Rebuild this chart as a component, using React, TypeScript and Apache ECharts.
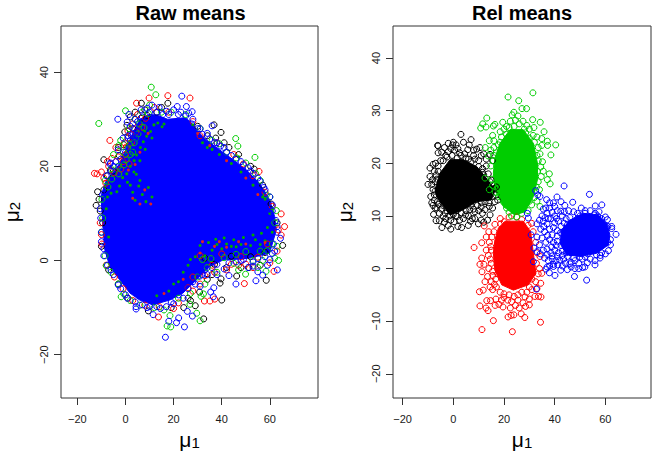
import React, { useEffect, useRef } from "react";
import * as echarts from "echarts";

// Where overplotting makes single circles
// unreadable, the solid mass is given as a traced outline (data units), not invented points.
const rawCore = [[-9.3,6.5],[-10,12.2],[-10,14],[-8,17],[-4.5,19],[-2,21],[0.5,24],[3,27],[6,30],[10,31],[12.9,30.9],[17.5,30],[24.6,30.3],[26.7,29.6],[29.5,27.7],[33.6,25.6],[39.1,23.5],[44.7,21.4],[50.2,19.2],[55.7,16.4],[59.9,12.9],[62,9.3],[62.7,6.5],[59.9,1.6],[51.6,0.5],[40.5,0.1],[35,-1.3],[29.5,-4.1],[23.9,-6.9],[18.4,-8.4],[11.5,-9.4],[5.9,-8.4],[1.8,-6.9],[-2.4,-4.1],[-6.5,-1.3],[-8.6,2.3]];
const rawBlack = [[17.6,33.4],[6.6,33.4],[-0.3,27.3],[-9,21.4],[-11.6,14.6],[-12.2,11.7],[36.8,28.8],[39.7,27.2],[53.5,19.4],[65.3,3.2],[40,-8.4],[29,-9.6],[27,-8.5],[30.8,-6.7],[24.2,-10],[32.5,-12.4],[58.5,-4.2],[46.2,-3.3],[39.3,-4.8],[51.3,-1.5],[39.7,-3.9],[9.5,-10.7],[-10.5,10.5],[-9,15],[-7.5,18],[-3,24],[2,30.5],[4,31.5],[8,32],[13,31.5],[15,32.5],[30,28.5],[34,26.5],[37.5,26],[41,25],[43,24],[47,22.5],[52,20],[57,16],[60.5,12],[63,8],[3,28],[1,26],[-5,19],[42,-1.5],[34,-4],[-11,13],[-9.5,8],[-10,3],[-7,-2],[-3,-5],[1,-8],[19,-10],[26,-8],[36,-3],[48,-1.5],[56,-1],[-6.3,19.2],[-2.6,22.3],[-0.7,24.6],[0.6,28.7],[6.4,30.2],[9,30.8],[33,0.5],[44,0.9],[52,0.8],[58,1.7],[37,-0.8]];
const rawRed = [[17.6,35],[26.8,34.5],[9.8,34.5],[4.6,33.4],[-6.5,25.5],[-0.4,25],[-5.7,21.7],[-12.9,18.5],[-11.8,18.4],[-10,18.8],[55.5,18.9],[64.7,9.9],[66.1,7.2],[13.7,-12],[-9.8,3.5],[-4.6,-3.5],[35.1,-8.6],[37.1,-8.2],[32.8,-8.6],[49.4,-4.9],[61.7,-2.3],[64.7,5.4],[5,31],[3,29],[1,27.5],[2.5,25],[-3,22],[-1,21],[-7,20],[-9,17.5],[-10.5,8],[-10,5.5],[-8,-1],[-1,-6],[3,-8.5],[8,-9.5],[20,-10.2],[22,-9],[28,-6.5],[31,-5],[37,-2.5],[42,-2],[47,-1],[53,-1.5],[60,-0.5],[63,2],[63.5,6.5],[61,11.5],[58,14.5],[53,18],[49,20.5],[45,22.5],[38,25],[31,26.5],[28,29.5],[18,31.5],[12,32.5],[-4,24],[0,22.5],[1.5,20.5],[-7.5,21],[44,-0.8],[50,-0.8],[33,-3.2],[26,-5.8],[14,-9.8],[-8.2,16.4],[-4.7,18.6],[-2,19.4],[0.4,24.1],[2.2,26.8],[4.4,27.3],[6.8,28.3],[8.4,30.2],[31,1],[40,1.4],[48,0.8],[55,0.7],[59,3.5],[36,-1],[28,-3.5]];
const rawGreen = [[-11.1,29.1],[10.7,36.8],[12.6,35.2],[0,31.8],[-2.8,24.4],[45.8,25.9],[46.7,24.3],[53.8,21.9],[62.7,10.6],[58.5,13.9],[-1.8,-7.7],[-0.7,-7.1],[-8,-1.1],[17.3,-13.9],[18.8,-14.1],[18.5,-11.7],[31,-12.8],[29.6,-11.2],[26.8,-9.3],[31.4,-7.6],[32.4,-7.1],[49.9,-2.9],[58.4,-2.3],[63.6,0],[-10,6],[-9.5,9],[-9.8,13],[-8.5,17],[-6,19.5],[-3,20],[-1,23],[2,22.5],[1.5,28],[4,30],[7,31.5],[10,33],[15,31.5],[19,31.5],[25,31],[31,28],[36,25.5],[39,24.8],[42,23],[46,21.8],[50,20.7],[54,18.5],[56,17],[60,13.5],[62,8],[63,3],[62,0.5],[55,-1.5],[47,-2],[38,-2.5],[33,-5],[27,-7],[22,-8],[16,-10.5],[12,-10],[6,-9.5],[2,-8.5],[-3,-5],[-6,-2.5],[-8.5,1],[3,23],[4.2,26],[-5,22.5],[-2,25.5],[1,24],[34,-1.5],[45,-0.6],[57,0],[30,-3.5],[-7.3,15.6],[-5.7,17.3],[-2.8,18.4],[-0.6,20.3],[0.3,21.4],[1.8,24.7],[3.6,25],[5.2,26.9],[5.8,29],[7.7,28.2],[9.5,31.2],[32,0.2],[35.5,0.4],[41,0.6],[46,1.3],[50,1.9],[53,0],[56,2],[59,2.1],[61,3.5]];
const rawBlue = [[23.4,34.9],[1.4,31],[-3.2,30],[0.7,29.4],[25.3,32.7],[21.5,32.7],[27.7,31.6],[26.3,31.3],[36,28.6],[-6.2,20.7],[16.6,-16.3],[24.5,-14.1],[27.8,-11.8],[25.7,-10.8],[21.2,-13.2],[22.1,-12.2],[18,-12.9],[11.5,-11.5],[4.4,-10.3],[4.4,-9.8],[0.7,-8],[36.5,-7.7],[35.4,-6.7],[36.7,-5.8],[45.9,-5],[54.2,-4.3],[43,-3.2],[57,-3.1],[55,-2.4],[63.1,-2],[64.4,4.7],[51,-1.5],[53,-1.2],[59,-1],[41,-1.8],[38,-3],[34,-3],[31,-5.5],[29,-5],[24,-8],[20,-9.2],[17,-9.8],[14.5,-10.2],[9,-10],[7,-9.4],[-2,-6],[-6,-2],[-9,1],[-10,4],[-10.3,9],[-9.5,14],[-8,18],[-5,20],[-2,21.5],[0,23],[1.5,24],[2.5,26.5],[3.5,28],[4,30],[6.5,32],[9,32.3],[11,33],[14,32.5],[17,31.7],[20,32],[23,31.5],[28,30],[31,28],[34,27],[38,25],[41,24],[48,21],[52,19],[55,17.5],[58,15],[61,11.8],[62.5,8.5],[63,6],[62,2],[60,0.2],[48,0],[32,-3],
[-4,21],[2,25.5],[1,26.5],[3,27],[-1,26],[2,28.5],[4,26],[5,27.5],[5,29.5],[7,30.5],[-6,19],[-6.5,20.5],[-3,23.5],[10,31.5],[13,31.5],[15.5,31],[18,31],[22,31],[25,30.7],[27.5,29],[30,28],[32,26.8],[35,25.8],[37,25],[39.5,24.3],[42,23],[44,22.3],[46,21.5],[49,20.3],[51,19.7],[53,18.5],[56,16.8],[57.5,15.5],[60,13.5],[61,10.5],[63,7.2],[61.5,3.5],[61,1.5],[58,0.8],[55,0.4],[53,-0.3],[49,0.2],[46,-0.3],[43,-0.5],[38,-0.8],[36,-1.5],[33,-2],[31,-3.3],[28,-4.5],[26,-6],[22,-7.3],[19,-8.8],[13,-9.8],[10,-9.8],[4,-8.8],[0,-7.3],[-3,-5.2],[-5,-3],[-7.5,-1],[-9,2.5],[-10,6],[-10.5,11]];
const rawSpeckGreen = [[2,16],[3,14.5],[4,12.8],[5.5,15.8],[7,14],[8.5,12.5],[9.5,15.5],[11,13.5],[6,17],[4.5,18.3],[32,25],[36,23.6],[39,22.5],[44,20.6],[48,18.8],[53,16],[57,13.5],[60,10],[56,3.4],[52,3.2],[48,3.4],[44,3],[40,2.5],[36,2.2],[33,1],[29,0.8],[26,-1],[22,-4.5],[18,-6.5],[13,-7.5],[58,4.2],[54,4.4],[46,2.9],[42,3.5],[61,6],[38,3.4],[34,24],[28,28.8],[16,29],[8,27.5],[-7,5],[-8,11],[-7.5,13.5],[-6,14.3],[-2.5,15.8],[-1.2,17.6],[0.5,18.4],[2,20],[3.6,21.2],[4.6,22.4],[6.2,24],[7.4,25.2],[8.8,26.4],[10.4,27.4],[11.8,28.8],[13.4,29.2],[15.2,28.4],[-3.6,14.6],[0.8,16.6],[3.5,18.8],[6,21.2],[8.2,23.6],[11,26],[31,3.2],[34.5,3.8],[37.5,4.5],[41,4.8],[45,4.4],[49,4.9],[53,5.4],[56.5,5.8],[59,7],[27,0.2],[24,-2.5],[20,-5],[47,22],[58,13],[61,11]];
const rawSpeckRed = [[3,13.2],[6,12],[8,15],[10.5,12],[35,24.4],[42,21.2],[50,17.5],[55,14],[50,3.5],[42,2.8],[37,3],[31,1.6],[24,-4],[16,-7],[30,27],[6,23],[1.2,19.2],[4,20.4],[9.4,27],[32,4],[39,4],[47,4],[58,3.8]];

const relBlackCore = [[-7.2,15],[-5.3,18.1],[-1.3,20.7],[3.9,20.7],[9.2,19.4],[12.5,17.5],[16.4,15],[15.1,13.1],[9.2,12.7],[3.9,11.2],[-1.3,10.2],[-3.9,11.8],[-6.6,13.7]];
const relBlack = [[3,25.5],[-6.2,23.4],[-6,23.3],[-2,23.8],[-0.3,23.5],[1.1,23.5],[-1,22.8],[0.5,22.5],[6.3,23.5],[5.7,22.6],[-4.6,22.1],[-9.2,19.1],[-9.2,17.5],[-10,16],[-8.2,16.9],[-8.9,13.7],[-7.2,11.5],[-5.5,10.5],[-6.8,9.1],[-5.5,9.1],[-4.5,7.8],[-2,8.2],[3.3,7.8],[5.9,8.2],[0.3,8.9],[9.9,8.5],[14.5,10.2],[16.4,12.7],[9.2,22.7],[10.5,23],[12,21.8],[8,21.5],[4.5,21.8],[2.5,22],[-3,21.5],[-5,20.5],[-6,19.5],[-7.5,18.5],[-8,15],[-7.5,13],[-8,12],[-6.5,11.5],[-4,10],[-3,9.5],[-1,9.2],[1,10],[2.5,9.2],[4,9.5],[6,10],[7.5,9.5],[8.5,10.8],[10,11],[11.5,10.5],[12.5,11.2],[13.5,9.2],[14.2,11.8],[15.5,11.5],[16.8,14],[17,15.5],[15,16.8],[13.8,18],[11.5,19],[13,19.5],[10,20.5],[6,20.8],[15.5,20.5],[14.5,21.7],[12,17.8],[-8.5,16],[-6.5,17],[-5,16],[-4.5,13],[-5.8,14.5],[10,14],[12,14.5],[13.5,13.5],[7,12],[5,11],[2,11.3],[-1,11],[-2.5,11],[-4,12],[11,12.5],[0,24],[4,24],[7,24.5],[-3.5,23],
[-4,20.5],[-2.5,21.2],[-0.5,21.5],[1.5,21],[3,21.5],[5,21],[7,20.3],[8.5,20.8],[10,19.4],[11.5,18.3],[14.5,16.5],[-6,18.5],[-6.8,17.8],[-7.2,16.5],[-7.2,14.7],[-7.5,14],[-6.2,12.8],[-5.8,12.2],[-4.8,11.3],[-3.2,10.5],[-1.5,10],[0,10.3],[1.5,9.9],[3.2,10.6],[4.8,10.2],[6.5,11.2],[8,11.3],[9.5,12],[11,11.7],[12.5,12.7],[14,12.5],[15.5,13.7],[16,15.2],[17.5,13],[-2,22.2],[1.8,22.8],[-6,22],[-7,20],[-8,19.8],[-3.5,8.8],[-1,7.5],[1.8,8],[6.8,9],[8.5,9.5],[11,9.2],[12,8.8],[-7.8,10.3],[-8.5,12.5],[8,22.5],[11,21.5],[13,20.8]];
const relRedCore = [[17.8,7.7],[20.4,9],[27.6,9],[30.5,7],[31.6,2.9],[32.6,-0.9],[29.6,-3.1],[23.7,-4.1],[19.1,-3.1],[16.4,-0.3],[15.8,2.9],[16.4,5.4]];
const relRed = [[11.3,-11.6],[23.3,-12],[34.4,-10.2],[15.8,-9.9],[28.2,-9.3],[26.8,-8.6],[23.9,-8.8],[22.8,-8.9],[21.6,-9.2],[13.7,-8],[10.5,-7.1],[12.9,-7.5],[19.6,-7.3],[13.2,-6.1],[14.7,-6.1],[16.8,-5.8],[10.3,-4.4],[11.8,-4.1],[8.2,4],[11.2,4.9],[11.2,2],[10.5,0.8],[12.1,0.8],[11.3,-0.6],[16.4,8.4],[18.7,8.5],[20.1,8.9],[12.2,8.1],[30.9,8.6],[34.2,2.3],[34.9,-0.9],[34.5,-2.8],[33.6,-5.3],[34.6,-5.4],[32.2,-5.3],[30,-6.9],[28.3,-5.4],[29,-4.5],[31,-4],[32.5,-2.5],[33.5,-1],[32.8,1],[33,3],[32.5,5],[31.5,7],[29.5,8.2],[15.2,6],[14.2,5],[15,3.5],[13.8,2.5],[15,1],[14,0],[13.5,-1.5],[15,-2.5],[15.5,-4],[17,-3.5],[18.5,-4.5],[20,-5.5],[21.5,-6],[23,-6.3],[24.5,-7],[25.5,-6],[26,-7.5],[27.5,-6.5],[28.5,-7.2],[22.5,-7.5],[18,-6.8],[16.5,-7],[17.5,-1],[15.5,-0.5],[16,7],[18.5,9.5],[22,9.8],[25,9.8],[27,9.3],[13,3.5],[12.5,-2.5],[31,-2],[20,-4.8],[24,-5.3],[27,-4.5],[30,-3.5],[34,0],
[14,7],[13,6],[14.5,-3.5],[19,-6],[25.5,-5],[22,-5],[33,-3.8],[30,-5.8],[14.6,1.8],[14.8,4.2],[16.7,-2],[16.2,-3],[15.6,-1.3]];
const relGreenCore = [[18.4,23.8],[22.4,26.4],[27.6,26.4],[31.6,23.8],[33.2,20],[33.2,16.9],[31.6,13.7],[28.3,10.8],[24.3,10.2],[19.7,11.8],[16.4,15],[15.8,18.1],[16.4,21]];
const relGreen = [[21.6,32.6],[31.4,33.4],[25.8,31.9],[27.1,30.4],[28.9,30.4],[23.2,29.2],[23.9,29.7],[13.2,28.6],[11.6,27.5],[10.8,26.7],[12.9,26.9],[16.4,27.4],[15.8,27.1],[19.5,27.8],[31.3,28.3],[34.3,27.8],[31.8,26.8],[35.8,26],[34.9,24.7],[37.1,24.2],[37.2,23.4],[40.4,23.5],[38.5,21.6],[34.9,23.4],[34.2,21.8],[34.5,19.3],[37.9,18],[37.1,16.9],[38.2,16.1],[34.7,17.5],[14.2,24.3],[16,24.3],[13.8,21.4],[12.5,17.2],[14.2,15],[19.7,12.7],[21,11.5],[34.2,11.8],[30.9,12.1],[18.5,26],[20,26.5],[19,25],[21,27],[22.5,28],[24.5,28.2],[25.5,29],[26,27.5],[27.5,28],[29,27.2],[30,26.5],[28.5,25.8],[31.5,25.3],[33,25],[32,24],[33.5,23],[33,21.5],[33.5,20.5],[35.2,20.3],[33.2,18.5],[35.5,18.5],[33.5,16.5],[32.8,15.5],[34,15],[32,13.5],[33,12.8],[29.5,11],[30,12.8],[27,10.5],[25,9.8],[23,10],[22,10.7],[19,14],[18,13.7],[16.5,14.5],[15.5,15.8],[15.2,17],[14.8,19.5],[15.8,20.5],[17,22],[16,23],[14.8,22.5],[17.8,23.5],[18.5,24],[12.6,23],[21,25.5],[15.5,25.3],[24,27],[28,26.5],[22,26.8],[30,24.8],[16,21.5]];
const relBlueCore = [[46,9.2],[51.3,10.5],[57.2,10.2],[60.5,8.6],[61.8,6.4],[61.2,4.5],[56.6,2.9],[50,2.3],[44.7,2.6],[42.1,4.8],[42.8,7.4]];
const relBlue = [[53.7,14.1],[40.9,13.6],[36.8,13.1],[47.1,12.6],[56,11.9],[58.6,12.1],[60.8,9.3],[62.5,8],[64.2,6.5],[62.5,7.6],[61.2,3.4],[57.9,2],[55.9,0.7],[55.9,1.5],[52.9,1.1],[51.9,0.3],[47.8,-1.5],[52.6,-2.2],[40.1,-1.3],[37.9,-0.8],[36.6,-0.1],[45,-0.2],[42.4,-0.3],[32.8,-3.9],[34.2,13.7],[31.6,1.3],[30.7,6.4],[31.8,3.9],[29.6,9.6],[29.2,10.5],[43.7,15.7],[32.5,14.8],[33.3,14],[38,11.5],[39.5,12.5],[41,11],[42.5,12.7],[44,12],[45.5,11],[37,10.5],[38.5,9.5],[40,10],[41.5,9],[43,10],[44.5,9.5],[46,9.7],[47.5,10.8],[49,10.5],[50.5,11.5],[52,11],[54,11],[55.5,10.2],[57,10],[35.5,9],[37,8.5],[34.5,7.5],[36,7],[38,7.5],[39.5,7.8],[41,7.2],[42.5,8],[35,5.8],[36.5,5],[38,5.5],[39.5,5],[41,5.2],[34,4.5],[35.5,3.5],[37,3.7],[38.5,3],[40,3.5],[41.5,3],[43,3.3],[36,2],[37.5,1.5],[39,1.8],[40.5,1.5],[42,1.6],[43.5,1.8],[45,2.3],[38,0.5],[39.5,0.4],[41.2,0.7],[43,0.5],[46.5,1.2],[48,1.5],[49.5,1],[50.8,1.8],[48,0],[49.5,0],[51,0.2],[54,1.8],[58.5,3],[60,2.8],[61,5],[60,9.8],[58.5,9.5],[33,6],[33,8.5],[46.5,0.3],
[38,12.5],[40,11.8],[36.5,11.5],[35,10],[36.2,9.7],[39,10.7],[40.7,9.5],[42.4,10.9],[43.8,10.8],[45,8.3],[46.5,8.7],[48,8.2],[43.8,8.6],[41,6.2],[42.3,6.8],[43.5,7],[39,6.4],[37.2,6.3],[35.7,8],[37.5,9.5],[40,8.7],[38.8,4.1],[40.6,4.4],[42.5,4.4],[44,5],[37,2.7],[39,2.4],[41,2.3],[43,2.5],[44.5,3],[46.5,3],[47.5,2],[50,2.2],[52,2.2],[46,0.9],[44.3,1],[53,2.8],[56.5,2.6],[58,2.5],[62,4.5],[62,5.5],[61,8],[60.5,7.8],[57.5,10.8],[56,10.5],[50,10],[52,10.5],[49,9.5],[34.3,2.8],[33,3.2],[34,9.2],[35.5,11.3],[39.5,0.8],[37,0.3]];

const title = (text: string, left: number) => ({
  text, left, top: -2,
  textAlign: "center",
  textStyle: { fontFamily: "Liberation Sans", fontSize: 20, fontWeight: "bold", color: "#000" },
});

const pts = (data: number[][], color: string, i: number, size = 6) => ({
  type: "scatter", data, xAxisIndex: i, yAxisIndex: i, symbol: "circle", symbolSize: size,
  silent: true, clip: false,
  itemStyle: { color: "rgba(0,0,0,0)", borderColor: color, borderWidth: 1, opacity: 1 },
});
const specks = (data: number[][], color: string, i: number) => ({
  type: "scatter", data, xAxisIndex: i, yAxisIndex: i, symbol: "circle", symbolSize: 3,
  silent: true, itemStyle: { color, opacity: 1 },
});
const core = (outline: number[][], color: string, i: number) => ({
  type: "custom", data: outline, xAxisIndex: i, yAxisIndex: i, silent: true,
  encode: { x: 0, y: 1 },
  renderItem: (p: any, api: any) =>
    p.dataIndex === 0
      ? { type: "polygon", shape: { points: outline.map((v) => api.coord(v)) }, style: { fill: color, stroke: color } }
      : null,
});

const axisText = { fontFamily: "Liberation Sans", fontSize: 11, color: "#1a1a1a" };
const nameText = {
  fontFamily: "Liberation Sans", color: "#000",
  rich: {
    m: { fontFamily: "Liberation Sans", fontSize: 21, lineHeight: 20, color: "#000" },
    s: { fontFamily: "Liberation Sans", fontSize: 15, lineHeight: 14, color: "#000", padding: [6, 0, 0, 0] },
  },
};
const tick = { show: true, length: 7, lineStyle: { color: "#333", width: 1 } };
const xTicks = [-20, 0, 20, 40, 60];

const xAxis = (i: number, min: number, max: number) => ({
  type: "value", gridIndex: i, min, max,
  name: "{m|μ}{s|1}", nameLocation: "middle", nameGap: 31, nameTextStyle: nameText,
  axisLine: { show: false, onZero: false }, axisTick: { ...tick, customValues: xTicks }, splitLine: { show: false },
  axisLabel: { ...axisText, margin: 15, customValues: xTicks,
    formatter: (v: number) => String(v).replace("-", "\u2212") },
});
const yAxis = (i: number, min: number, max: number, values: number[], gap: number) => ({
  type: "value", gridIndex: i, min, max,
  name: "{m|μ}{s|2}", nameLocation: "middle", nameGap: gap, nameRotate: 90, nameTextStyle: nameText,
  axisLine: { show: false, onZero: false }, axisTick: { ...tick, customValues: values }, splitLine: { show: false },
  axisLabel: { ...axisText, rotate: 90, margin: 12, customValues: values,
    formatter: (v: number) => String(v).replace("-", "\u2212") },
});

export default function App() {
  const ref = useRef<HTMLDivElement>(null);
  useEffect(() => {
    const chart = echarts.init(ref.current!, undefined, { renderer: "svg" });
    chart.setOption({
      animation: false,
      backgroundColor: "#fff",
      title: [title("Raw means", 185.5), title("Rel means", 517)],
      grid: [
        { left: 61, top: 26, width: 257, height: 372, show: true, borderColor: "#333", borderWidth: 1, backgroundColor: "#fff", outerBoundsMode: "none" },
        { left: 393, top: 26, width: 258, height: 372, show: true, borderColor: "#333", borderWidth: 1, backgroundColor: "#fff", outerBoundsMode: "none" },
      ],
      xAxis: [xAxis(0, -26.8, 80), xAxis(1, -23.8, 78)],
      yAxis: [yAxis(0, -29.2, 49.8, [-20, 0, 20, 40], 40), yAxis(1, -24.6, 46.1, [-20, -10, 0, 10, 20, 30, 40], 39)],
      series: [
        core(rawCore, "#0000ff", 0),
        pts(rawBlack, "#000", 0),
        pts(rawRed, "#ff0000", 0),
        pts(rawGreen, "#00cd00", 0),
        specks(rawSpeckGreen, "#00a800", 0),
        specks(rawSpeckRed, "#e02020", 0),
        pts(rawBlue, "#0000ff", 0),
        core(relBlackCore, "#000", 1),
        pts(relBlack, "#000", 1),
        core(relRedCore, "#ff0000", 1),
        pts(relRed, "#ff0000", 1),
        core(relGreenCore, "#00cd00", 1),
        pts(relGreen, "#00cd00", 1),
        core(relBlueCore, "#0000ff", 1),
        pts(relBlue, "#0000ff", 1),
      ],
    });
    return () => chart.dispose();
  }, []);
  return <div ref={ref} style={{ position: "fixed", left: 0, top: 0, width: 664, height: 465 }} />;
}
